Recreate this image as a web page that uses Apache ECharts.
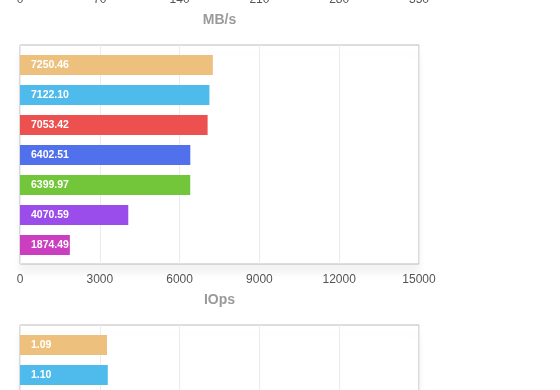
<!DOCTYPE html>
<html>
<head>
<meta charset="utf-8">
<script src="https://cdn.jsdelivr.net/npm/echarts@6/dist/echarts.min.js"></script>
<style>
html,body{margin:0;padding:0;background:#fff;}
#c{width:560px;height:390px;}
</style>
</head>
<body>
<div id="c"></div>
<script>
// Data
const topAxisName = 'MB/s';
const topAxisMax = 350;
const topAxisInterval = 70;

const iopsAxisName = 'IOps';
const iopsCategories = ['A', 'B', 'C', 'D', 'E', 'F', 'G'];
const iopsValues = [7250.46, 7122.10, 7053.42, 6402.51, 6399.97, 4070.59, 1874.49];
const iopsAxisMax = 15000;
const iopsAxisInterval = 3000;

const bottomCategories = ['A', 'B'];
const bottomValues = [1.09, 1.10];
const bottomAxisMax = 5;
const bottomAxisInterval = 1;

const barColors = ['#EDC17D', '#4FBBEC', '#EC5150', '#5070EC', '#73C63A', '#9B4DEC', '#CC3EC0'];

const FONT = '"Helvetica Neue", Helvetica, Arial, "Liberation Sans", sans-serif';
const LEFT = 20, WIDTH = 399, FRAME_H = 219;
const tops = [-235, 45, 325];

function frameGrid(top) {
  return {left: LEFT, top: top, width: WIDTH, height: FRAME_H, show: true,
    outerBoundsMode: 'none', containLabel: false,
    borderColor: '#bbbbbb', borderWidth: 1, backgroundColor: '#ffffff',
    shadowColor: 'rgba(0,0,0,0.05)', shadowBlur: 8, shadowOffsetY: 9};
}
function barGrid(top, n) {
  return {left: LEFT, top: top, width: WIDTH, height: 30 * n,
    outerBoundsMode: 'none', containLabel: false};
}
function frameAxis(gridIndex, max, interval, name) {
  return {type: 'value', gridIndex: gridIndex, min: 0, max: max, interval: interval,
    name: name, nameLocation: 'middle', nameGap: 29,
    nameTextStyle: {color: '#9a9a9a', fontSize: 14, fontWeight: 'bold', fontFamily: FONT},
    axisLine: {show: false}, axisTick: {show: false},
    axisLabel: {color: '#555', fontSize: 12, margin: 10, fontFamily: FONT,
      formatter: v => String(v)},
    splitLine: {show: true, lineStyle: {color: '#ebebeb', width: 1}}};
}
function hiddenX(gridIndex, max) {
  return {type: 'value', gridIndex: gridIndex, min: 0, max: max, show: false, splitLine: {show: false}};
}
function hiddenY(gridIndex, cats) {
  return {type: 'category', gridIndex: gridIndex, data: cats, inverse: true, show: false};
}
function dummyY(gridIndex) {
  return {type: 'category', gridIndex: gridIndex, data: [''], show: false};
}
function barSeries(xi, yi, values, fmt) {
  return {type: 'bar', xAxisIndex: xi, yAxisIndex: yi, barCategoryGap: '33%',
    data: values.map((v, i) => ({value: v, itemStyle: {color: barColors[i % barColors.length]}})),
    label: {show: true, position: 'insideLeft', distance: 11, color: '#fff',
      fontSize: 10.5, fontWeight: 'bold', fontFamily: FONT,
      formatter: p => fmt(p.value)},
    silent: true, animation: false};
}

const chart = echarts.init(document.getElementById('c'));
chart.setOption({
  animation: false,
  backgroundColor: '#ffffff',
  grid: [
    frameGrid(tops[0]),
    frameGrid(tops[1]),
    barGrid(tops[1] + 5, iopsCategories.length),
    frameGrid(tops[2]),
    barGrid(tops[2] + 5, bottomCategories.length)
  ],
  xAxis: [
    frameAxis(0, topAxisMax, topAxisInterval, topAxisName),
    frameAxis(1, iopsAxisMax, iopsAxisInterval, iopsAxisName),
    hiddenX(2, iopsAxisMax),
    frameAxis(3, bottomAxisMax, bottomAxisInterval, ''),
    hiddenX(4, bottomAxisMax)
  ],
  yAxis: [
    dummyY(0),
    dummyY(1),
    hiddenY(2, iopsCategories),
    dummyY(3),
    hiddenY(4, bottomCategories)
  ],
  series: [
    barSeries(2, 2, iopsValues, v => v.toFixed(2)),
    barSeries(4, 4, bottomValues, v => v.toFixed(2))
  ]
});
</script>
</body>
</html>
